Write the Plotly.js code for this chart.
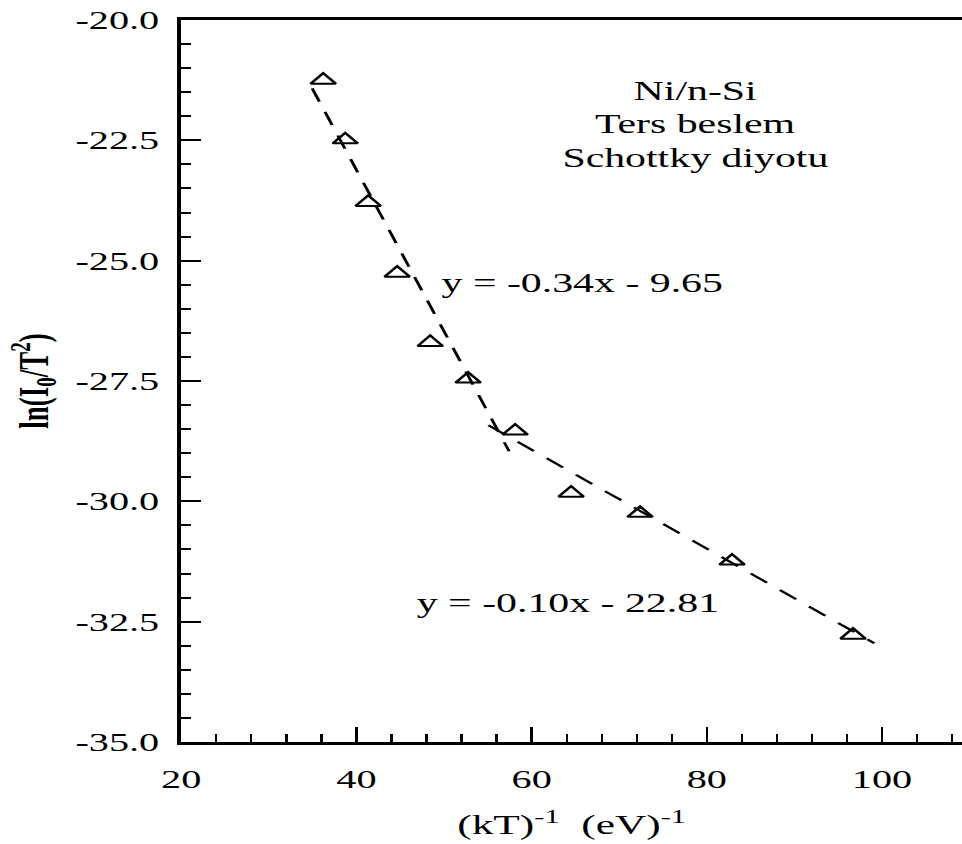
<!DOCTYPE html>
<html>
<head>
<meta charset="utf-8">
<script src="https://cdn.plot.ly/plotly-3.0.1.min.js"></script>
<style>
html, body { margin: 0; padding: 0; background: #ffffff; overflow: hidden; }
#wrap { width: 962px; height: 844px; overflow: hidden; }
#chart { width: 621px; height: 844px; transform: scaleX(1.5491); transform-origin: 0 0; }
</style>
</head>
<body>
<div id="wrap"><div id="chart"></div></div>
<script>
// Measured data points: (kT)^-1 vs ln(I0/T^2)
const invKT = [36.21, 38.72, 41.34, 44.65, 48.42, 52.75, 58.12, 64.51, 72.38, 82.88, 96.69];
const lnI0T2 = [-21.25, -22.49, -23.79, -25.26, -26.70, -27.46, -28.54, -29.83, -30.25, -31.24, -32.78];

// Fitted lines (end points)
const fit1X = [34.95, 57.43];
const fit1Y = [-21.42, -28.96];
const fit2X = [55.07, 99.12];
const fit2Y = [-28.42, -32.95];

// Tick values / labels
const xTickVals = [20, 40, 60, 80, 100];
const xTickText = ['20', '40', '60', '80', '100'];
const yTickVals = [-35, -32.5, -30, -27.5, -25, -22.5, -20];
const yTickText = ['-35.0', '-32.5', '-30.0', '-27.5', '-25.0', '-22.5', '-20.0'];

// Texts
const sampleLines = ['Ni/n-Si', 'Ters beslem', 'Schottky diyotu'];
const sampleX = [78.66, 78.66, 78.66];
const sampleY = [-21.47, -22.16, -22.86];
const fitLabels = ['y = -0.34x - 9.65', 'y = -0.10x - 22.81'];
const fitLabelX = [65.88, 64.1];
const fitLabelY = [-25.47, -32.12];

const FONT = 'Liberation Serif, Times New Roman, serif';

const traces = [
  {
    x: fit1X, y: fit1Y, mode: 'lines', type: 'scatter', showlegend: false,
    line: { color: '#000000', width: 2, dash: '14px,11px' }, hoverinfo: 'skip'
  },
  {
    x: fit2X, y: fit2Y, mode: 'lines', type: 'scatter', showlegend: false,
    line: { color: '#000000', width: 2, dash: '14px,11px' }, hoverinfo: 'skip'
  },
  {
    x: invKT, y: lnI0T2, mode: 'markers', type: 'scatter', showlegend: false,
    marker: { symbol: 'triangle-up-open', size: 14, color: '#000000', line: { color: '#000000', width: 2 } }
  }
];

const annotations = [];
for (let i = 0; i < sampleLines.length; i++) {
  annotations.push({
    x: sampleX[i], y: sampleY[i], xref: 'x', yref: 'y', text: sampleLines[i],
    showarrow: false, xanchor: 'center', yanchor: 'middle',
    font: { family: FONT, size: 27, color: '#000000' }
  });
}
for (let i = 0; i < fitLabels.length; i++) {
  annotations.push({
    x: fitLabelX[i], y: fitLabelY[i], xref: 'x', yref: 'y', text: fitLabels[i],
    showarrow: false, xanchor: 'center', yanchor: 'middle',
    font: { family: FONT, size: 27, color: '#000000' }
  });
}

const layout = {
  width: 621, height: 844,
  margin: { l: 117, r: 0, t: 20, b: 102 },
  paper_bgcolor: '#ffffff', plot_bgcolor: '#ffffff',
  font: { family: FONT, color: '#000000' },
  showlegend: false,
  xaxis: {
    range: [20, 109.13], showgrid: false, zeroline: false,
    showline: true, linecolor: '#000000', linewidth: 3, mirror: true,
    tickmode: 'array', tickvals: xTickVals, ticktext: xTickText,
    ticks: 'inside', ticklen: 15, tickwidth: 1.5, tickcolor: '#000000',
    minor: { tick0: 20, dtick: 4, ticks: 'inside', ticklen: 8, tickwidth: 1.5, tickcolor: '#000000', showgrid: false },
    tickfont: { family: FONT, size: 26, color: '#000000' },
    ticklabelstandoff: 12,
    title: { text: '(kT)<sup>-1</sup>&nbsp; (eV)<sup>-1</sup>', font: { family: FONT, size: 28, color: '#000000' }, standoff: 22 },
    automargin: false
  },
  yaxis: {
    range: [-35, -20], showgrid: false, zeroline: false,
    showline: true, linecolor: '#000000', linewidth: 3, mirror: false,
    tickmode: 'array', tickvals: yTickVals, ticktext: yTickText,
    ticks: 'inside', ticklen: 13, tickwidth: 2, tickcolor: '#000000',
    minor: { tick0: -35, dtick: 0.5, ticks: 'inside', ticklen: 6.5, tickwidth: 2, tickcolor: '#000000', showgrid: false },
    tickfont: { family: FONT, size: 26, color: '#000000' },
    ticklabelstandoff: 6,
    title: { text: 'ln(I<sub>0</sub>/T<sup>2</sup>)', font: { family: FONT, size: 27, color: '#000000', weight: 'bold' }, standoff: 10 },
    automargin: false
  },
  annotations: annotations
};

Plotly.newPlot('chart', traces, layout, { staticPlot: true, displayModeBar: false });
</script>
</body>
</html>
